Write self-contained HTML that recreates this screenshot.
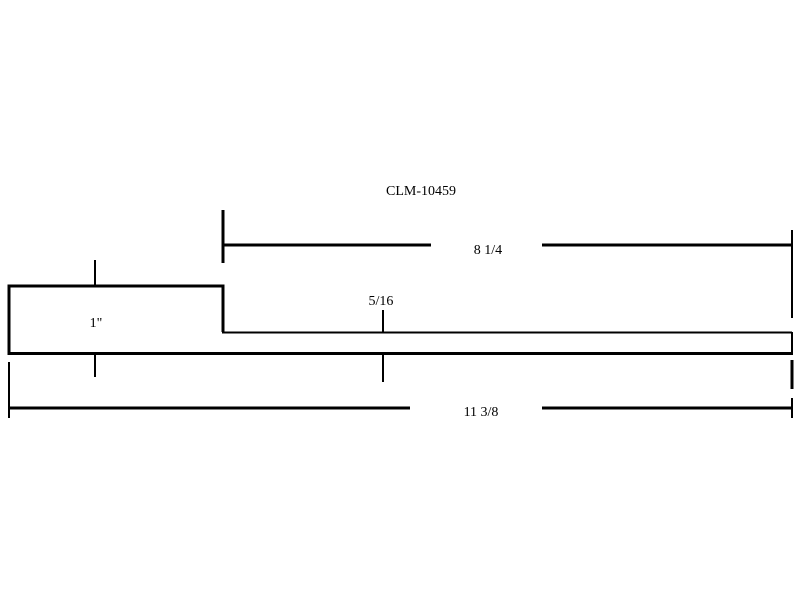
<!DOCTYPE html>
<html><head><style>body{margin:0;background:#fff}svg{display:block}text{font-family:"Liberation Serif",serif;font-size:14px;fill:#000}</style></head>
<body>
<svg width="800" height="600" viewBox="0 0 800 600">
<g stroke="#000" fill="none" stroke-linecap="butt">
<polyline points="9,286 223,286 223,332" stroke-width="3"/>
<line x1="9" y1="284.5" x2="9" y2="355" stroke-width="3"/>
<line x1="9" y1="353.5" x2="793" y2="353.5" stroke-width="3"/>
<line x1="222" y1="332.5" x2="792" y2="332.5" stroke-width="2"/>
<line x1="792" y1="332" x2="792" y2="354" stroke-width="2"/>
<line x1="223" y1="245" x2="431" y2="245" stroke-width="3"/>
<line x1="542" y1="245" x2="792" y2="245" stroke-width="3"/>
<line x1="223" y1="210" x2="223" y2="263" stroke-width="3"/>
<line x1="792" y1="230" x2="792" y2="318" stroke-width="2"/>
<line x1="9" y1="408" x2="410" y2="408" stroke-width="3"/>
<line x1="542" y1="408" x2="792" y2="408" stroke-width="3"/>
<line x1="9" y1="362" x2="9" y2="418" stroke-width="2"/>
<line x1="792" y1="360" x2="792" y2="389" stroke-width="3"/>
<line x1="792" y1="398" x2="792" y2="418" stroke-width="2"/>
<line x1="95" y1="260" x2="95" y2="285" stroke-width="2"/>
<line x1="95" y1="355" x2="95" y2="377" stroke-width="2"/>
<line x1="383" y1="310" x2="383" y2="332" stroke-width="2"/>
<line x1="383" y1="355" x2="383" y2="382" stroke-width="2"/>
</g>
<text x="421" y="195" text-anchor="middle">CLM-10459</text>
<text x="488" y="254" text-anchor="middle">8 1/4</text>
<text x="381" y="305" text-anchor="middle">5/16</text>
<text x="96" y="327" text-anchor="middle">1"</text>
<text x="481" y="416" text-anchor="middle">11 3/8</text>
</svg>
</body></html>
